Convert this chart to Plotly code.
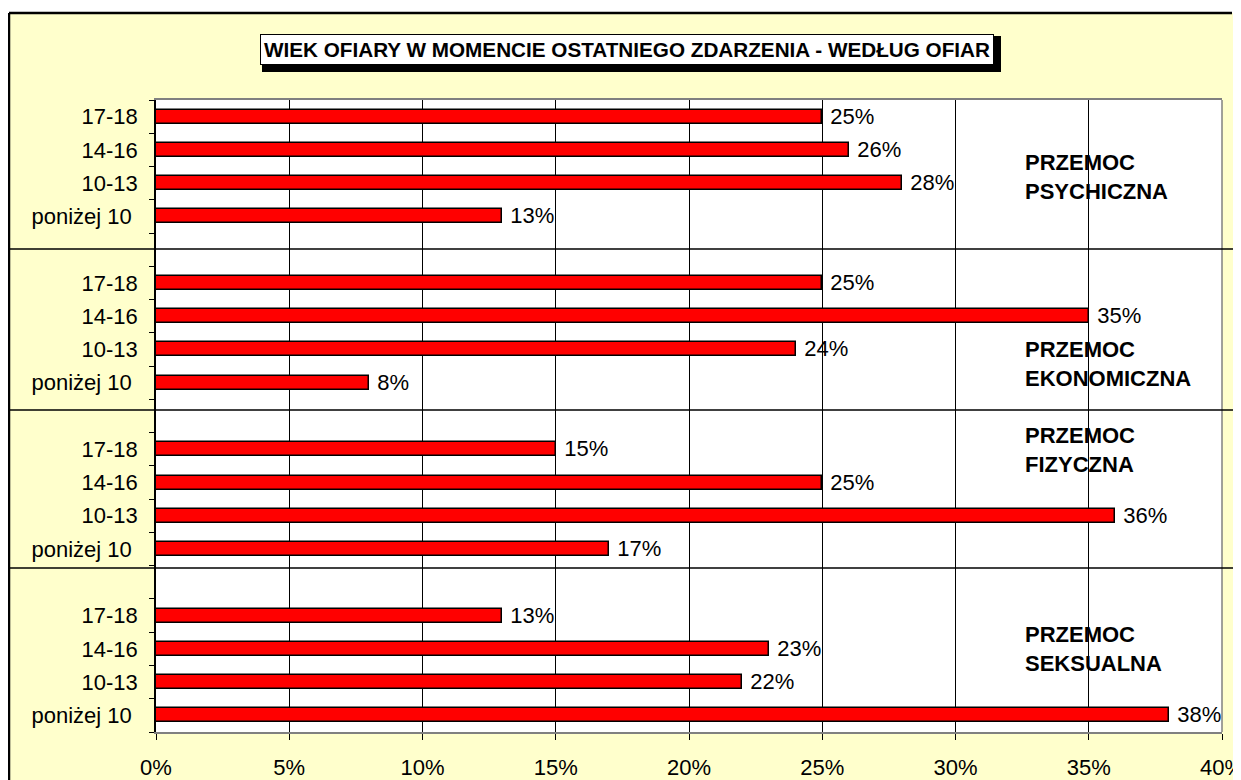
import plotly.graph_objects as go

# ---- data ----
group_names = ["PRZEMOC<br>PSYCHICZNA", "PRZEMOC<br>EKONOMICZNA",
               "PRZEMOC<br>FIZYCZNA", "PRZEMOC<br>SEKSUALNA"]
age_labels = ["17-18", "14-16", "10-13", "poniżej 10"]
psychiczna = [25, 26, 28, 13]
ekonomiczna = [25, 35, 24, 8]
fizyczna = [15, 25, 36, 17]
seksualna = [13, 23, 22, 38]
x_tick_vals = [0, 5, 10, 15, 20, 25, 30, 35, 40]
x_tick_labels = ["0%", "5%", "10%", "15%", "20%", "25%", "30%", "35%", "40%"]
title_text = "WIEK OFIARY W MOMENCIE OSTATNIEGO ZDARZENIA - WEDŁUG OFIAR"

series = [psychiczna, ekonomiczna, fizyczna, seksualna]

FONT = "Liberation Sans, Arial, sans-serif"
ROWS_PER_GROUP = len(age_labels) + 1
N_ROWS = ROWS_PER_GROUP * len(series) - 1  # 19 rows, blank row between groups

xs, ys, texts, tick_y, tick_text = [], [], [], [], []
for g, vals in enumerate(series):
    for c, v in enumerate(vals):
        y = N_ROWS - 1 - (g * ROWS_PER_GROUP + c)
        xs.append(v)
        ys.append(y)
        texts.append("\u00a0" + f"{v}%")
        tick_y.append(y)
        lbl = age_labels[c]
        if lbl.startswith("poni"):
            lbl = lbl + "\u00a0"
        tick_text.append(lbl)

boundaries = [k - 0.5 for k in range(N_ROWS + 1)]

fig = go.Figure()
fig.add_trace(go.Bar(
    x=xs, y=ys, orientation="h", width=0.42,
    marker=dict(color="#FF0000", line=dict(color="black", width=1.5)),
    text=texts, textposition="outside", constraintext="none", cliponaxis=False,
    textfont=dict(family=FONT, size=22, color="black"),
    hoverinfo="skip", showlegend=False,
))

# page geometry (browser body has an 8px margin)
OFF = 8
PAGE_W, PAGE_H = 1241, 780
PL, PR, PT, PB = 156, 1222, 100, 732  # plot area in page pixels
W, H = PAGE_W - OFF, PAGE_H - OFF
L, T = PL - OFF, PT - OFF
R, B = PAGE_W - PR, PAGE_H - PB
pw, ph = PR - PL, PB - PT


def px_x(px):
    return (px - PL) / pw


def px_y(py):
    return (PB - py) / ph


shapes = []
# white page strips (top and left) and chart border
shapes.append(dict(type="rect", xref="paper", yref="paper", x0=-0.3, x1=1.3,
                   y0=px_y(13), y1=1.3, fillcolor="white", line=dict(width=0), layer="above"))
shapes.append(dict(type="rect", xref="paper", yref="paper", x0=-0.3, x1=px_x(9),
                   y0=-0.3, y1=1.3, fillcolor="white", line=dict(width=0), layer="above"))
shapes.append(dict(type="line", xref="paper", yref="paper", x0=px_x(9), x1=px_x(1232),
                   y0=px_y(13), y1=px_y(13), line=dict(color="black", width=2.5), layer="above"))
shapes.append(dict(type="line", xref="paper", yref="paper", x0=px_x(9), x1=px_x(9),
                   y0=-0.2, y1=px_y(13), line=dict(color="black", width=2.5), layer="above"))
# right border of plot area
shapes.append(dict(type="line", xref="paper", yref="paper", x0=1, x1=1, y0=0, y1=1,
                   line=dict(color="#808080", width=1.5), layer="above"))
# group separators
for py, xr in [(249, 1236), (410, 1238), (568, 1238)]:
    shapes.append(dict(type="line", xref="paper", yref="paper", x0=px_x(10), x1=px_x(xr),
                       y0=px_y(py), y1=px_y(py), line=dict(color="black", width=1.5), layer="above"))
# title shadow
shapes.append(dict(type="rect", xref="paper", yref="paper", x0=px_x(262), x1=px_x(1001),
                   y0=px_y(72), y1=px_y(36), fillcolor="black", line=dict(width=0), layer="above"))

annotations = [dict(
    text=title_text, xref="paper", yref="paper", x=px_x(627), y=px_y(49.5),
    xanchor="center", yanchor="middle", showarrow=False,
    font=dict(family=FONT, size=20.7, color="black", weight="bold"),
    bgcolor="white", bordercolor="black", borderwidth=1, borderpad=3,
)]
for name, py in zip(group_names, [177, 364, 450, 649]):
    annotations.append(dict(
        text=name, xref="paper", yref="paper", x=px_x(1023), y=px_y(py),
        xanchor="left", yanchor="middle", align="left", showarrow=False,
        font=dict(family=FONT, size=22, color="black", weight="bold"),
    ))

fig.update_layout(
    width=W, height=H,
    margin=dict(l=L, r=R, t=T, b=B, pad=0, autoexpand=False),
    paper_bgcolor="#FFFFCC", plot_bgcolor="white",
    font=dict(family=FONT, size=22, color="black"),
    xaxis=dict(range=[0, 40], tickvals=x_tick_vals, ticktext=x_tick_labels,
               showgrid=True, gridcolor="black", gridwidth=1, zeroline=False,
               showline=True, linecolor="#808080", linewidth=1.5, mirror=True,
               ticks="outside", ticklen=6, tickcolor="black",
               tickfont=dict(family=FONT, size=22, color="black"),
               ticklabelstandoff=9, ticklabeloverflow="allow",
               automargin=False, fixedrange=True),
    yaxis=dict(range=[-0.5, N_ROWS - 0.5], tickvals=tick_y, ticktext=tick_text,
               ticks="", showgrid=False, zeroline=False,
               showline=True, linecolor="black", linewidth=1.5,
               tickfont=dict(family=FONT, size=22, color="black"),
               ticklabelstandoff=12, automargin=False,
               minor=dict(tickvals=boundaries, ticks="outside", ticklen=5,
                          tickcolor="black", showgrid=False),
               fixedrange=True),
    shapes=shapes, annotations=annotations,
    bargap=0,
)

fig.write_html("out.html")
